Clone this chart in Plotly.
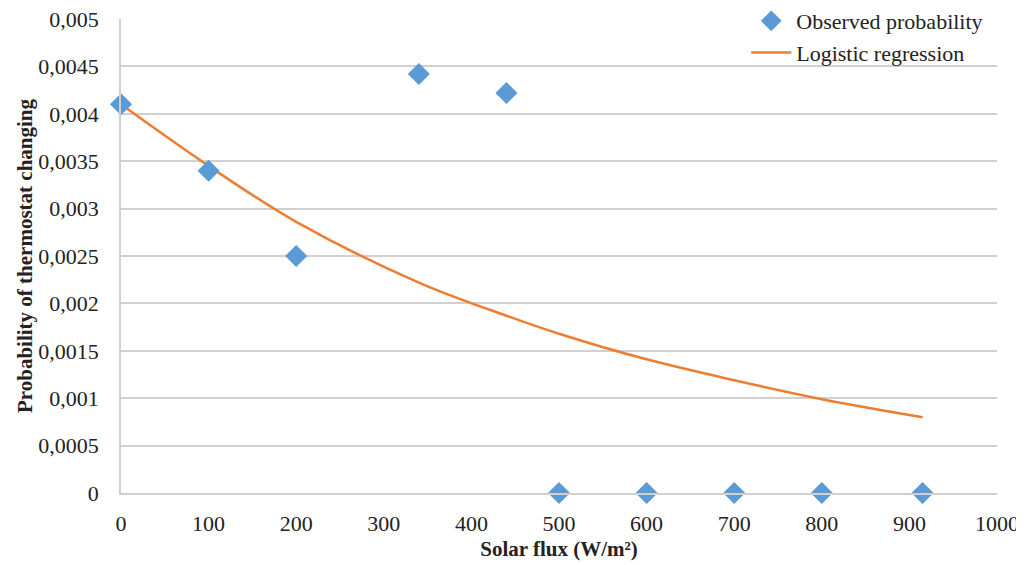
import plotly.graph_objects as go

# Observed data
obs_x = [0, 100, 200, 340, 440, 500, 600, 700, 800, 915]
obs_p = [0.0041, 0.0034, 0.0025, 0.00442, 0.00422, 0, 0, 0, 0, 0]

# Logistic regression curve
fit_x = [0, 100, 200, 340, 440, 500, 600, 700, 800, 915]
fit_p = [0.0041, 0.00345, 0.00286, 0.00222, 0.00187, 0.00168, 0.00141, 0.00119, 0.00099, 0.0008]

y_ticks = [0, 0.0005, 0.001, 0.0015, 0.002, 0.0025, 0.003, 0.0035, 0.004, 0.0045, 0.005]
y_ticktext = ["0", "0,0005", "0,001", "0,0015", "0,002", "0,0025", "0,003", "0,0035", "0,004", "0,0045", "0,005"]
x_ticks = [0, 100, 200, 300, 400, 500, 600, 700, 800, 900, 1000]

FONT = "Liberation Serif"

fig = go.Figure()
fig.add_trace(go.Scatter(
    x=fit_x, y=fit_p, mode="lines", name="Logistic regression",
    line=dict(color="#ED7D31", width=2.5, shape="spline"),
))
fig.add_trace(go.Scatter(
    x=obs_x, y=obs_p, mode="markers", name="Observed probability",
    marker=dict(symbol="diamond", size=17, color="#5B9BD5"),
    cliponaxis=False,
))

fig.update_layout(
    width=1016, height=557,
    margin=dict(l=113, r=27, t=11, b=72, autoexpand=False),
    paper_bgcolor="white", plot_bgcolor="white",
    font=dict(family=FONT, size=22, color="#222222"),
    showlegend=True,
    legend=dict(
        x=0.99, y=1.04, xanchor="right", yanchor="top",
        bgcolor="rgba(0,0,0,0)", font=dict(family=FONT, size=22),
        traceorder="reversed", itemwidth=40,
    ),
    xaxis=dict(
        range=[0, 1000], tickvals=x_ticks, showgrid=False,
        showline=True, linecolor="#d0d0d0", linewidth=1.5,
        zeroline=False, ticks="", ticklabelstandoff=10,
        ticklabeloverflow="allow",
        title=dict(text="<b>Solar flux (W/m²)</b>", font=dict(family=FONT, size=21), standoff=6),
    ),
    yaxis=dict(
        range=[0, 0.005], tickvals=y_ticks, ticktext=y_ticktext,
        showgrid=True, gridcolor="#d0d0d0", gridwidth=1.5,
        showline=True, linecolor="#d0d0d0", linewidth=1.5,
        zeroline=False, ticks="", ticklabelstandoff=16,
        ticklabeloverflow="allow",
        title=dict(text="<b>Probability of thermostat changing</b>", font=dict(family=FONT, size=21), standoff=0),
    ),
)

fig.write_html("out.html")
